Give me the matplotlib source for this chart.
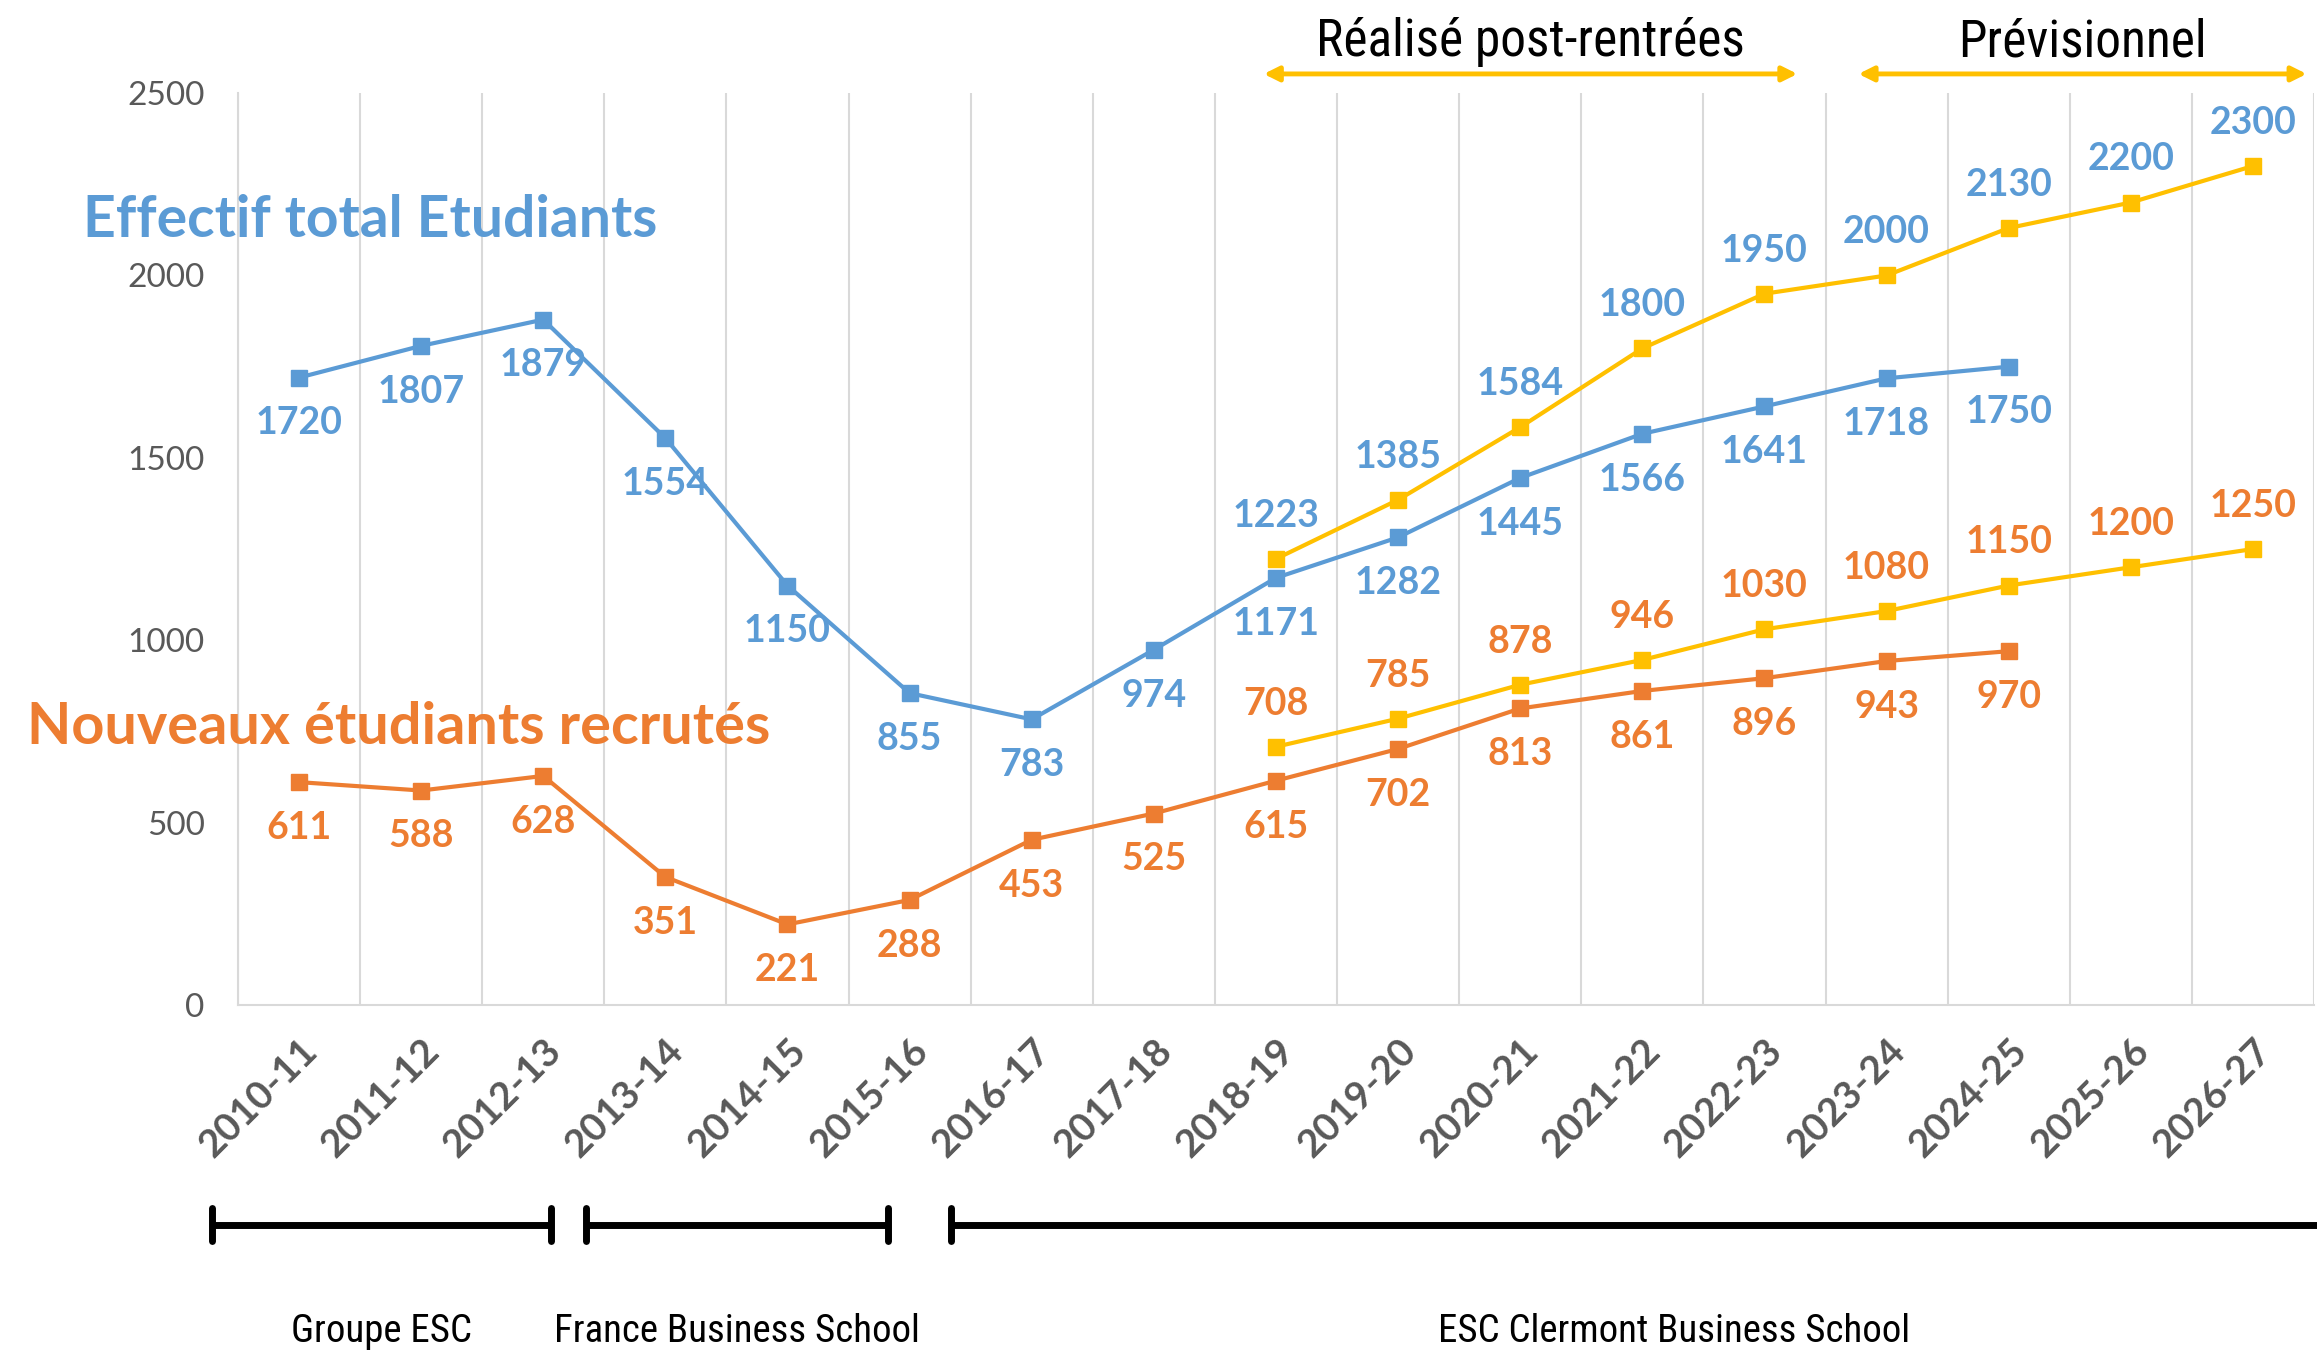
import matplotlib
matplotlib.use("Agg")
import matplotlib.pyplot as plt
import matplotlib.transforms as mtransforms
import numpy as np

# ── data ─────────────────────────────────────────────────────────────────────
years = ["2010-11", "2011-12", "2012-13", "2013-14", "2014-15", "2015-16",
         "2016-17", "2017-18", "2018-19", "2019-20", "2020-21", "2021-22",
         "2022-23", "2023-24", "2024-25", "2025-26", "2026-27"]

total_real = [1720, 1807, 1879, 1554, 1150, 855, 783, 974, 1171, 1282,
              1445, 1566, 1641, 1718, 1750]
recruits_real = [611, 588, 628, 351, 221, 288, 453, 525, 615, 702,
                 813, 861, 896, 943, 970]

# forecast series start at 2018-19
forecast_start = 8
total_forecast = [1223, 1385, 1584, 1800, 1950, 2000, 2130, 2200, 2300]
recruits_forecast = [708, 785, 878, 946, 1030, 1080, 1150, 1200, 1250]

# school periods (in category index units)
schools = ["Groupe ESC", "France Business School", "ESC Clermont Business School"]
school_spans = [(-0.71, 2.06), (2.35, 4.82), (5.34, 17.18)]

periods = ["Réalisé post-rentrées", "Prévisionnel"]
period_spans = [(7.9, 12.27), (12.77, 16.44)]

# ── style ────────────────────────────────────────────────────────────────────
BLUE = "#5B9BD5"
ORANGE = "#ED7D31"
YELLOW = "#FFC000"
GRID = "#D9D9D9"
TICK = "#595959"
LABEL_FONT = ["Lato", "DejaVu Sans"]
NARROW_FONT = ["Roboto Condensed", "DejaVu Sans"]

fig = plt.figure(figsize=(23.17, 13.51), dpi=100)
ax = fig.add_axes([0.1027, 0.2561, 0.896, 0.675])

x = np.arange(len(years))
xr = x[:len(total_real)]
xf = x[forecast_start:forecast_start + len(total_forecast)]

line_kw = dict(lw=3, marker="s", markersize=11, zorder=3)
ax.plot(xr, recruits_real, color=ORANGE, **line_kw)
ax.plot(xf, recruits_forecast, color=YELLOW, **line_kw)
ax.plot(xr, total_real, color=BLUE, **line_kw)
ax.plot(xf, total_forecast, color=YELLOW, **line_kw)


def label_points(xs, ys, color, dy):
    for xi, yi in zip(xs, ys):
        ax.annotate(f"{yi}", (xi, yi), xytext=(0, dy), textcoords="offset points",
                    ha="center", va="center", color=color, fontsize=27,
                    fontweight="bold", family=LABEL_FONT, zorder=4)


label_points(xr, total_real, BLUE, -33)
label_points(xr, recruits_real, ORANGE, -33)
label_points(xf, total_forecast, BLUE, 31)
label_points(xf, recruits_forecast, ORANGE, 31)

# ── axes ─────────────────────────────────────────────────────────────────────
ax.set_xlim(-0.5, len(years) - 0.5)
ax.set_ylim(0, 2500)
ax.set_yticks(range(0, 2501, 500))
ax.set_xticks(x)
ax.set_xticks(np.arange(-0.5, len(years), 1.0), minor=True)
ax.grid(True, which="minor", axis="x", color=GRID, lw=1.5)
ax.tick_params(which="both", length=0)
ax.tick_params(axis="y", pad=24, labelsize=24, labelcolor=TICK)
ax.set_xticklabels(years, rotation=45, ha="right", va="top",
                   rotation_mode="anchor", fontsize=28, fontweight="bold",
                   color=TICK, family=LABEL_FONT)
ax.tick_params(axis="x", pad=20)
for lbl in ax.get_yticklabels():
    lbl.set_family(LABEL_FONT)
for side in ["top", "right"]:
    ax.spines[side].set_visible(False)
ax.spines["bottom"].set_color(GRID)
ax.spines["bottom"].set_linewidth(1.5)
ax.spines["left"].set_color(GRID)
ax.spines["left"].set_linewidth(1.5)

# series titles
ax.text(-1.765, 2150, "Effectif total Etudiants", color=BLUE, fontsize=41,
        fontweight="bold", family=LABEL_FONT, ha="left", va="center")
ax.text(-2.225, 760, "Nouveaux étudiants recrutés", color=ORANGE, fontsize=41.5,
        fontweight="bold", family=LABEL_FONT, ha="left", va="center")

trans = mtransforms.blended_transform_factory(ax.transData, ax.transAxes)

# top period arrows
for name, (a, b) in zip(periods, period_spans):
    ax.annotate("", xy=(a, 1.021), xytext=(b, 1.021), xycoords=trans,
                textcoords=trans, annotation_clip=False,
                arrowprops=dict(arrowstyle="<|-|>", color=YELLOW, lw=3.5,
                                mutation_scale=22, shrinkA=0, shrinkB=0))
    ax.text((a + b) / 2, 1.056, name, transform=trans, ha="center",
            va="center", fontsize=37, family=NARROW_FONT,
            fontstretch="condensed", color="black", clip_on=False)

# bottom school brackets
for name, (a, b) in zip(schools, school_spans):
    ax.plot([a, b], [-0.241, -0.241], transform=trans, color="black", lw=5,
            clip_on=False, solid_capstyle="butt")
    for e in (a, b):
        ax.plot([e, e], [-0.259, -0.223], transform=trans, color="black",
                lw=5, clip_on=False, solid_capstyle="round")
    ax.text((a + b) / 2, -0.358, name, transform=trans, ha="center",
            va="center", fontsize=28, family=NARROW_FONT,
            fontstretch="condensed", color="black", clip_on=False)

fig.savefig("out.png", dpi=100, facecolor="white")
plt.close(fig)
